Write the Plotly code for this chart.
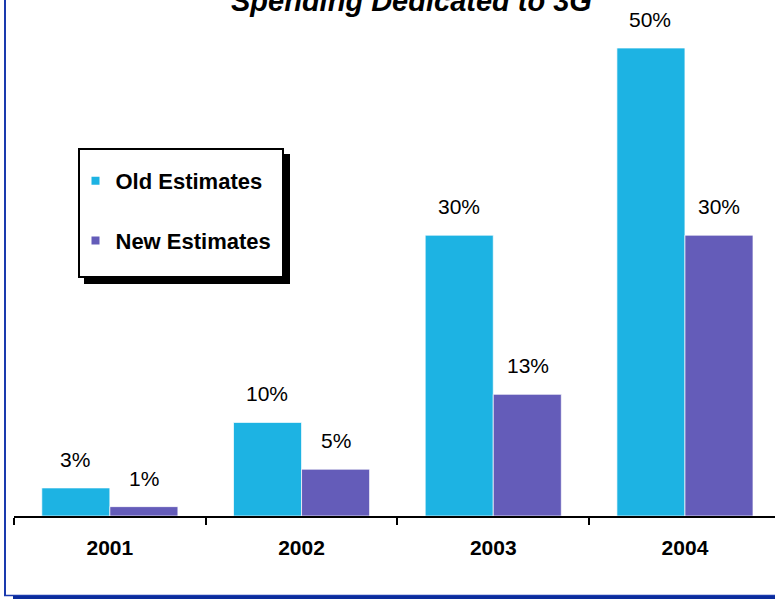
import plotly.graph_objects as go

years = ["2001", "2002", "2003", "2004"]
old_estimates = [3, 10, 30, 50]
new_estimates = [1, 5, 13, 30]
old_labels = ["3%", "10%", "30%", "50%"]
new_labels = ["1%", "5%", "13%", "30%"]
title_text = "Spending Dedicated to 3G"

W, H = 775, 599
ML, MT, MB = 14, 0, 83
PW, PH = W - ML, H - MT - MB
CAT_PX = 191.7
PX_PER_PCT = 9.36

def fx(px):
    return (px - ML) / PW

def fy(py):
    return (MT + PH - py) / PH

CYAN = "#1DB3E3"
PURPLE = "#645CB9"
BORDER = "#1A3AAE"
FONT = "Liberation Sans, Arial, sans-serif"

fig = go.Figure()
fig.add_trace(go.Bar(x=years, y=old_estimates, marker=dict(color=CYAN, line=dict(color="rgba(255,255,255,0.7)", width=1)), showlegend=False))
fig.add_trace(go.Bar(x=years, y=new_estimates, marker=dict(color=PURPLE, line=dict(color="rgba(255,255,255,0.7)", width=1)), showlegend=False))
# legend entries
fig.add_trace(go.Scatter(x=[None], y=[None], mode="markers", name="Old Estimates", legendgroup="a",
                         marker=dict(symbol="square", size=8, color=CYAN)))
fig.add_trace(go.Scatter(x=[None], y=[None], mode="markers", name="New Estimates", legendgroup="b",
                         marker=dict(symbol="square", size=8, color=PURPLE)))

for i, (v, t) in enumerate(zip(old_estimates, old_labels)):
    fig.add_annotation(xref="x", yref="y", x=i, y=v, text=t, showarrow=False, xshift=-34.5, yshift=15,
                       yanchor="bottom", font=dict(family=FONT, size=21, color="black"))
for i, (v, t) in enumerate(zip(new_estimates, new_labels)):
    fig.add_annotation(xref="x", yref="y", x=i, y=v, text=t, showarrow=False, xshift=34.5, yshift=15,
                       yanchor="bottom", font=dict(family=FONT, size=21, color="black"))
fig.add_annotation(xref="paper", yref="paper", x=fx(411), y=fy(19), yanchor="bottom", xanchor="center",
                   text="<b><i>" + title_text + "</i></b>", showarrow=False,
                   font=dict(family=FONT, size=29, color="black"))

shapes = [
    # legend shadow and box
    dict(type="rect", xref="paper", yref="paper", x0=fx(84), x1=fx(290), y0=fy(154), y1=fy(284),
         fillcolor="black", line=dict(width=0), layer="above"),
    dict(type="rect", xref="paper", yref="paper", x0=fx(79), x1=fx(283), y0=fy(149), y1=fy(277),
         fillcolor="white", line=dict(color="black", width=2), layer="above"),
    # outer frame
    dict(type="line", xref="paper", yref="paper", x0=fx(5), x1=fx(5), y0=fy(0), y1=fy(596),
         line=dict(color=BORDER, width=2)),
    dict(type="line", xref="paper", yref="paper", x0=fx(4), x1=fx(775), y0=fy(595.5), y1=fy(595.5),
         line=dict(color=BORDER, width=1.5)),
    dict(type="rect", xref="paper", yref="paper", x0=fx(13), x1=fx(776), y0=fy(596), y1=fy(600),
         fillcolor="#0B2C9C", line=dict(width=0)),
]

x_span = PW / CAT_PX
fig.update_layout(
    width=W, height=H, autosize=False,
    margin=dict(l=ML, r=0, t=MT, b=MB, pad=0),
    paper_bgcolor="white", plot_bgcolor="white",
    barmode="group", bargap=0.29, bargroupgap=0.0,
    font=dict(family=FONT, color="black"),
    xaxis=dict(type="category", range=[-0.5, -0.5 + x_span], showline=True, linecolor="black", linewidth=2,
               ticks="outside", tickson="boundaries", ticklen=7, tickwidth=2, tickcolor="black",
               ticklabelstandoff=12,
               showgrid=False, zeroline=False, tickfont=dict(family=FONT, size=21, color="black", weight="bold")),
    yaxis=dict(range=[0, PH / PX_PER_PCT], fixedrange=True, showticklabels=False, showgrid=False,
               zeroline=False, showline=False, ticks=""),
    showlegend=True,
    legend=dict(x=fx(75.5), y=fy(160), xanchor="left", yanchor="top", bgcolor="rgba(0,0,0,0)", borderwidth=0,
                tracegroupgap=28, font=dict(family=FONT, size=22, color="black", weight="bold")),
    shapes=shapes,
)

fig.write_html("out.html", config={"displayModeBar": False},
               post_script="document.body.style.margin='0';")
